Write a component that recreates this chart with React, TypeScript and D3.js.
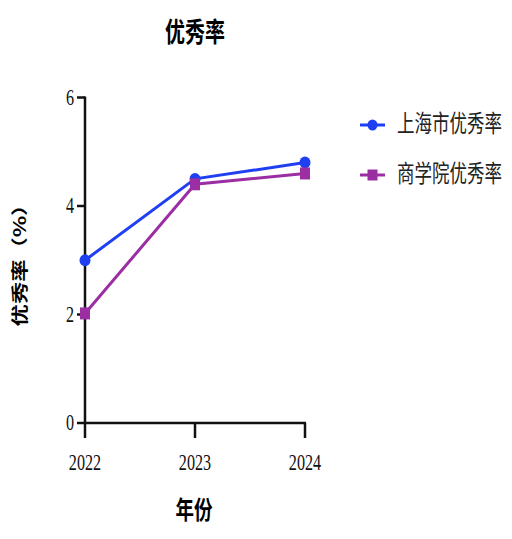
import React from "react";
import * as d3 from "d3";

const years = ["2022", "2023", "2024"];
const shanghaiRate = [3.0, 4.5, 4.8];
const schoolRate = [2.02, 4.4, 4.6];
const yTicks = [0, 2, 4, 6];
const seriesNames = ["上海市优秀率", "商学院优秀率"];

const width = 512;
const height = 539;
const cjk = "'Noto Sans CJK SC', sans-serif";
const num = "'Liberation Serif', 'Times New Roman', serif";
const blue = "#1f3ff2";
const purple = "#9a2ea2";

// stretched text, the reference is squashed horizontally
const Label = ({ x, y, sx = 1, sy = 1.35, rotate = 0, children, ...rest }: any) => (
  <text
    transform={`translate(${x},${y}) rotate(${rotate}) scale(${sx},${sy})`}
    {...rest}
  >
    {children}
  </text>
);

const App = () => {
  const x = d3.scalePoint<string>().domain(years).range([85, 305]);
  const y = d3.scaleLinear().domain([0, 6]).range([423, 97.5]);

  const line = d3
    .line<number>()
    .x((_, i) => x(years[i]) as number)
    .y((d) => y(d));

  const series = [
    { name: seriesNames[0], values: shanghaiRate, color: blue, marker: "circle" },
    { name: seriesNames[1], values: schoolRate, color: purple, marker: "square" },
  ];

  return (
    <svg
      width={width}
      height={height}
      style={{ position: "absolute", left: 0, top: 0, background: "#fff" }}
    >
      {/* title */}
      <Label x={195} y={42} textAnchor="middle" fontFamily={cjk} fontWeight="bold" fontSize={20}>
        优秀率
      </Label>

      {/* y axis */}
      <line x1={85} x2={85} y1={y(6) - 1} y2={y(0)} stroke="#111" strokeWidth={2.5} />
      {yTicks.map((t) => (
        <g key={t}>
          <line x1={77} x2={85} y1={y(t)} y2={y(t)} stroke="#111" strokeWidth={2.5} />
          <Label
            x={74}
            y={y(t) + 7}
            sx={0.95}
            sy={1.4}
            textAnchor="end"
            fontFamily={num}
            fontSize={17}
            fill="#111"
          >
            {t}
          </Label>
        </g>
      ))}

      {/* x axis */}
      <line x1={84} x2={306} y1={y(0)} y2={y(0)} stroke="#111" strokeWidth={2.5} />
      {years.map((yr) => (
        <g key={yr}>
          <line x1={x(yr)} x2={x(yr)} y1={y(0)} y2={y(0) + 15} stroke="#111" strokeWidth={2.5} />
          <Label
            x={x(yr) as number}
            y={470}
            sx={0.95}
            sy={1.4}
            textAnchor="middle"
            fontFamily={num}
            fontSize={17}
            fill="#111"
          >
            {yr}
          </Label>
        </g>
      ))}

      {/* axis titles */}
      <Label x={194} y={519} textAnchor="middle" fontFamily={cjk} fontWeight="bold" fontSize={18.5}>
        年份
      </Label>
      <Label
        x={26}
        y={260}
        rotate={-90}
        sx={1.35}
        sy={1}
        textAnchor="middle"
        fontFamily={cjk}
        fontWeight="bold"
        fontSize={16.5}
      >
        优秀率（%）
      </Label>

      {/* lines and markers */}
      {series.map((s) => (
        <g key={s.name}>
          <path d={line(s.values) as string} fill="none" stroke={s.color} strokeWidth={3} />
          {s.values.map((v, i) =>
            s.marker === "circle" ? (
              <ellipse key={i} cx={x(years[i])} cy={y(v)} rx={5.5} ry={6} fill={s.color} />
            ) : (
              <rect
                key={i}
                x={(x(years[i]) as number) - 5}
                y={y(v) - 6}
                width={10}
                height={12}
                fill={s.color}
              />
            )
          )}
        </g>
      ))}

      {/* legend */}
      {series.map((s, i) => {
        const ly = 125 + i * 50;
        return (
          <g key={s.name}>
            <line x1={360} x2={385} y1={ly} y2={ly} stroke={s.color} strokeWidth={3} />
            {s.marker === "circle" ? (
              <ellipse cx={372.5} cy={ly} rx={5} ry={5.5} fill={s.color} />
            ) : (
              <rect x={367.5} y={ly - 5.5} width={10} height={11} fill={s.color} />
            )}
            <Label x={397} y={ly + 7} fontFamily={cjk} fontSize={17.5} fill="#222">
              {s.name}
            </Label>
          </g>
        );
      })}
    </svg>
  );
};

export default App;
